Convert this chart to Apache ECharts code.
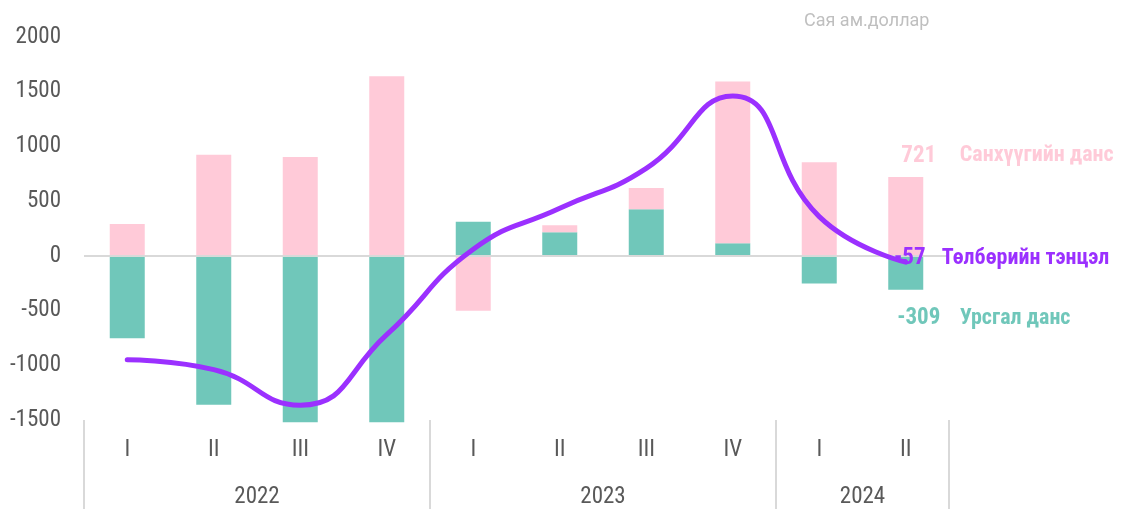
<!DOCTYPE html>
<html>
<head>
<meta charset="utf-8">
<script src="https://cdn.jsdelivr.net/npm/echarts@6/dist/echarts.min.js"></script>
<style>html,body{margin:0;padding:0;background:#fff}#c{width:1126px;height:509px}</style>
</head>
<body>
<div id="c"></div>
<script>
var quarters = ['I','II','III','IV','I','II','III','IV','I','II'];
var years = ['2022','2023','2024'];
var quartersPerYear = [4, 4, 2];
var currentAccount   = [-752, -1361, -1520, -1520, 311, 216, 425, 116, -252, -309];
var financialAccount = [290, 925, 904, 1641, -502, 64, 195, 1477, 855, 721];
var balance          = [-950, -1040, -1365, -720, 60, 435, 800, 1461, 359, -57];
var names = { ca: 'Урсгал данс', fa: 'Санхүүгийн данс', bop: 'Төлбөрийн тэнцэл' };
var unitText = 'Сая ам.доллар';

var FONT = '"Liberation Sans Narrow", "Roboto Condensed", Roboto, sans-serif';
var C_CA = '#70C7BA', C_FA = '#FFCAD8', C_BOP = '#9B30FF';

var bounds = [0], centres = [], acc = 0;
quartersPerYear.forEach(function (n) { centres.push(acc + n / 2); acc += n; bounds.push(acc); });
var last = quarters.length - 1;

function rich(color, w) {
  return {
    v: { width: w, align: 'right', color: color, fontFamily: FONT, fontWeight: 'bold', fontSize: 23 },
    n: { padding: [0, 0, 0, 19], color: color, fontFamily: FONT, fontWeight: 'bold', fontSize: 22 }
  };
}

var chart = echarts.init(document.getElementById('c'));
chart.setOption({
  animation: false,
  title: { text: unitText, left: 799, top: 7, textStyle: { color: '#BFBFBF', fontSize: 18, fontWeight: 'normal', fontFamily: 'Roboto, sans-serif' } },
  grid: { left: 84, right: 177, top: 37, bottom: 89 },
  xAxis: [
    {
      type: 'category', data: quarters, position: 'bottom',
      axisLine: { show: false }, axisTick: { show: false },
      axisLabel: { margin: 19, color: '#595959', fontSize: 23, fontFamily: FONT }
    },
    {
      type: 'value', min: 0, max: quarters.length, position: 'bottom',
      splitLine: { show: false }, axisLine: { show: false },
      axisTick: { show: true, customValues: bounds, length: 92, lineStyle: { color: '#d9d9d9', width: 2 } },
      axisLabel: {
        customValues: centres, margin: 66, color: '#595959', fontSize: 23, fontFamily: FONT,
        formatter: function (v) { var i = centres.indexOf(v); return i >= 0 ? years[i] : ''; }
      }
    }
  ],
  yAxis: {
    type: 'value', min: -1500, max: 2000, interval: 500,
    splitLine: { show: false }, axisLine: { show: false }, axisTick: { show: false },
    axisLabel: { margin: 23, color: '#595959', fontSize: 23, fontFamily: FONT, formatter: function (v) { return String(v); } }
  },
  series: [
    {
      name: names.ca, type: 'bar', stack: 'bop', barWidth: 35, clip: false,
      itemStyle: { color: C_CA },
      data: currentAccount.map(function (v, i) {
        return i === last ? { value: v, label: {
          show: true, position: 'bottom', distance: 29, align: 'left', verticalAlign: 'middle', offset: [-9, 0],
          formatter: function (p) { return '{v|' + p.value + '}{n|' + names.ca + '}'; }, rich: rich(C_CA, 44)
        } } : v;
      }),
      markLine: { silent: true, symbol: 'none', label: { show: false }, lineStyle: { color: '#d9d9d9', width: 2, type: 'solid' }, data: [{ yAxis: 0 }] }
    },
    {
      name: names.fa, type: 'bar', stack: 'bop', barWidth: 35, clip: false,
      itemStyle: { color: C_FA },
      data: financialAccount.map(function (v, i) {
        return i === last ? { value: v, label: {
          show: true, position: 'top', distance: 21, align: 'left', verticalAlign: 'middle', offset: [-9, 0],
          formatter: function (p) { return '{v|' + p.value + '}{n|' + names.fa + '}'; }, rich: rich(C_FA, 44)
        } } : v;
      })
    },
    {
      name: names.bop, type: 'line', data: balance, smooth: true, showSymbol: false, symbol: 'none',
      lineStyle: { color: C_BOP, width: 5, cap: 'round' }, itemStyle: { color: C_BOP }, z: 5,
      endLabel: {
        show: true, distance: -9, offset: [0, -4], align: 'left', verticalAlign: 'middle',
        formatter: function (p) { return '{v|' + p.value + '}{n|' + names.bop + '}'; }, rich: rich(C_BOP, 26)
      }
    }
  ]
});
</script>
</body>
</html>
